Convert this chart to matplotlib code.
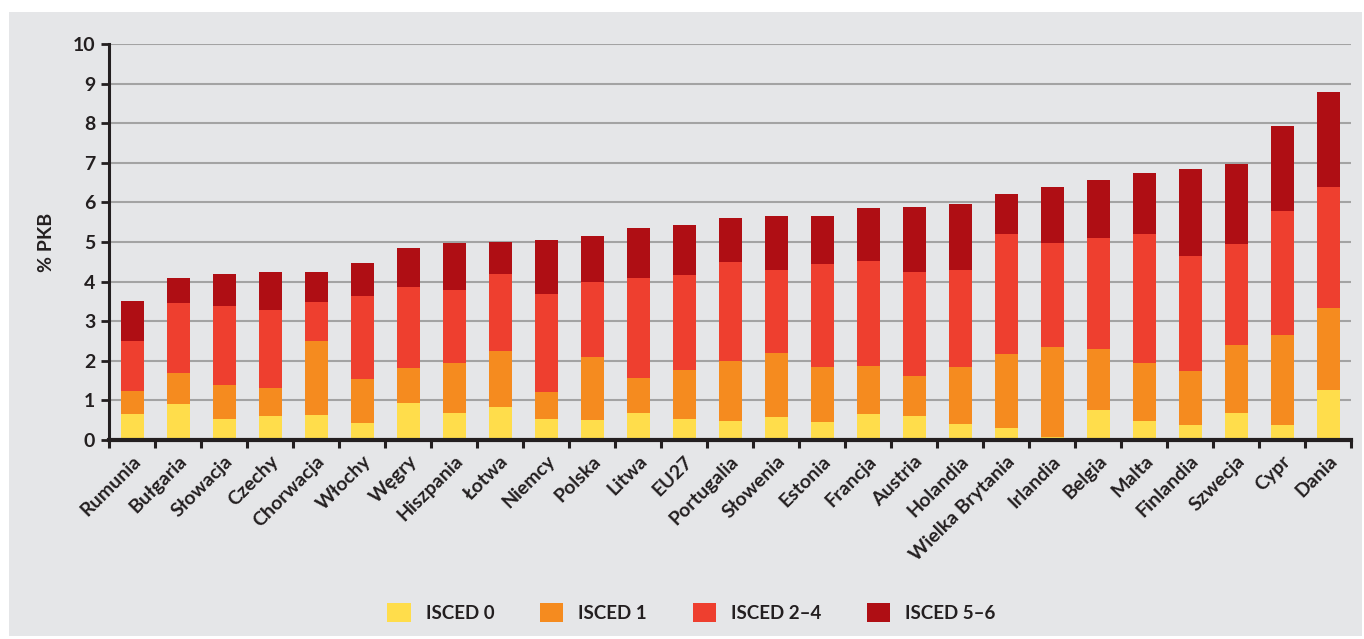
import matplotlib
matplotlib.use("Agg")
import matplotlib.pyplot as plt
from matplotlib.patches import Rectangle, Patch
import numpy as np

categories = ["Rumunia", "Bułgaria", "Słowacja", "Czechy", "Chorwacja", "Włochy", "Węgry",
              "Hiszpania", "Łotwa", "Niemcy", "Polska", "Litwa", "EU27", "Portugalia",
              "Słowenia", "Estonia", "Francja", "Austria", "Holandia", "Wielka Brytania",
              "Irlandia", "Belgia", "Malta", "Finlandia", "Szwecja", "Cypr", "Dania"]

# cumulative tops
cum_isced0 = [0.66, 0.91, 0.53, 0.61, 0.63, 0.43, 0.93, 0.68, 0.83, 0.53, 0.50, 0.68, 0.53, 0.48,
              0.58, 0.45, 0.66, 0.61, 0.40, 0.30, 0.08, 0.76, 0.48, 0.38, 0.68, 0.38, 1.26]
cum_isced1 = [1.24, 1.69, 1.39, 1.31, 2.50, 1.54, 1.82, 1.94, 2.25, 1.21, 2.09, 1.56, 1.77, 2.00,
              2.20, 1.84, 1.87, 1.61, 1.84, 2.17, 2.35, 2.30, 1.94, 1.74, 2.40, 2.65, 3.33]
cum_isced24 = [2.50, 3.46, 3.38, 3.28, 3.48, 3.63, 3.86, 3.78, 4.19, 3.68, 3.99, 4.09, 4.16, 4.49,
               4.29, 4.44, 4.52, 4.24, 4.29, 5.20, 4.97, 5.10, 5.20, 4.64, 4.95, 5.78, 6.38]
cum_isced56 = [3.51, 4.09, 4.19, 4.24, 4.24, 4.47, 4.84, 4.97, 5.00, 5.05, 5.15, 5.35, 5.43, 5.60,
               5.65, 5.65, 5.85, 5.88, 5.95, 6.21, 6.38, 6.56, 6.74, 6.84, 6.96, 7.92, 8.78]

series_names = ["ISCED 0", "ISCED 1", "ISCED 2–4", "ISCED 5–6"]
yticks = list(range(0, 11))

colors = ["#FFDD4B", "#F58B1F", "#EE3F2F", "#AF0E14"]
bg = "#E5E6E8"
dark = "#231F20"

plt.rcParams['font.family'] = ['Lato', 'DejaVu Sans']

W, H = 1364, 639
fig = plt.figure(figsize=(W / 100, H / 100), dpi=100, facecolor="white")
fig.patches.append(Rectangle((9 / W, 3 / H), (1362 - 9) / W, (627 - 3) / H,
                             transform=fig.transFigure, facecolor=bg, edgecolor="none", zorder=-10))

ax = fig.add_axes([109 / W, (H - 440) / H, (1351 - 109) / W, (440 - 44) / H])
ax.set_zorder(1)
ax.patch.set_visible(False)

x = np.arange(len(categories))
cums = [np.array(cum_isced0), np.array(cum_isced1), np.array(cum_isced24), np.array(cum_isced56)]
bottom = np.zeros(len(categories))
for c, col in zip(cums, colors):
    ax.bar(x, c - bottom, bottom=bottom, width=0.5, color=col, zorder=3, linewidth=0)
    bottom = c

ax.set_xlim(-0.5, len(categories) - 0.5)
ax.set_ylim(0, 10)
ax.set_yticks(yticks)
ax.set_yticklabels([str(t) for t in yticks], fontsize=14, fontweight="bold", color=dark)
ax.grid(axis="y", color="#A3A3A3", linewidth=1.5, zorder=1)
ax.set_axisbelow(True)

# x ticks at category boundaries
ax.set_xticks(np.arange(-0.5, len(categories), 1.0))
ax.set_xticklabels([])
ax.set_xticks(x, minor=True)
ax.set_xticklabels(categories, minor=True, rotation=45, ha="right", va="top",
                   rotation_mode="anchor", fontsize=14, fontweight="bold", color=dark)
ax.tick_params(axis="x", which="minor", length=0, pad=9)
ax.tick_params(axis="x", which="major", length=6, width=2.2, color=dark, direction="out")
ax.tick_params(axis="y", length=6, width=2, color=dark, direction="out", pad=4)

for s in ["top", "right"]:
    ax.spines[s].set_visible(False)
ax.spines["left"].set_color(dark)
ax.spines["left"].set_linewidth(2.2)
ax.spines["bottom"].set_color(dark)
ax.spines["bottom"].set_linewidth(3)
ax.spines["bottom"].set_zorder(5)

fig.text(46 / W, (H - 242) / H, "% PKB", rotation=90, ha="center", va="center",
         fontsize=14, fontweight="bold", color=dark)

handles = [Patch(facecolor=c, edgecolor="none") for c in colors]
leg = fig.legend(handles, series_names, loc="center", bbox_to_anchor=(691.5 / W, (H - 612.5) / H),
                 ncol=4, frameon=False, fontsize=13.5, handlelength=1.23, handleheight=1.23,
                 handletextpad=0.8, columnspacing=2.45, borderpad=0, borderaxespad=0)
for t in leg.get_texts():
    t.set_fontweight("bold")
    t.set_color(dark)

fig.savefig("out.png", dpi=100, facecolor="white")
